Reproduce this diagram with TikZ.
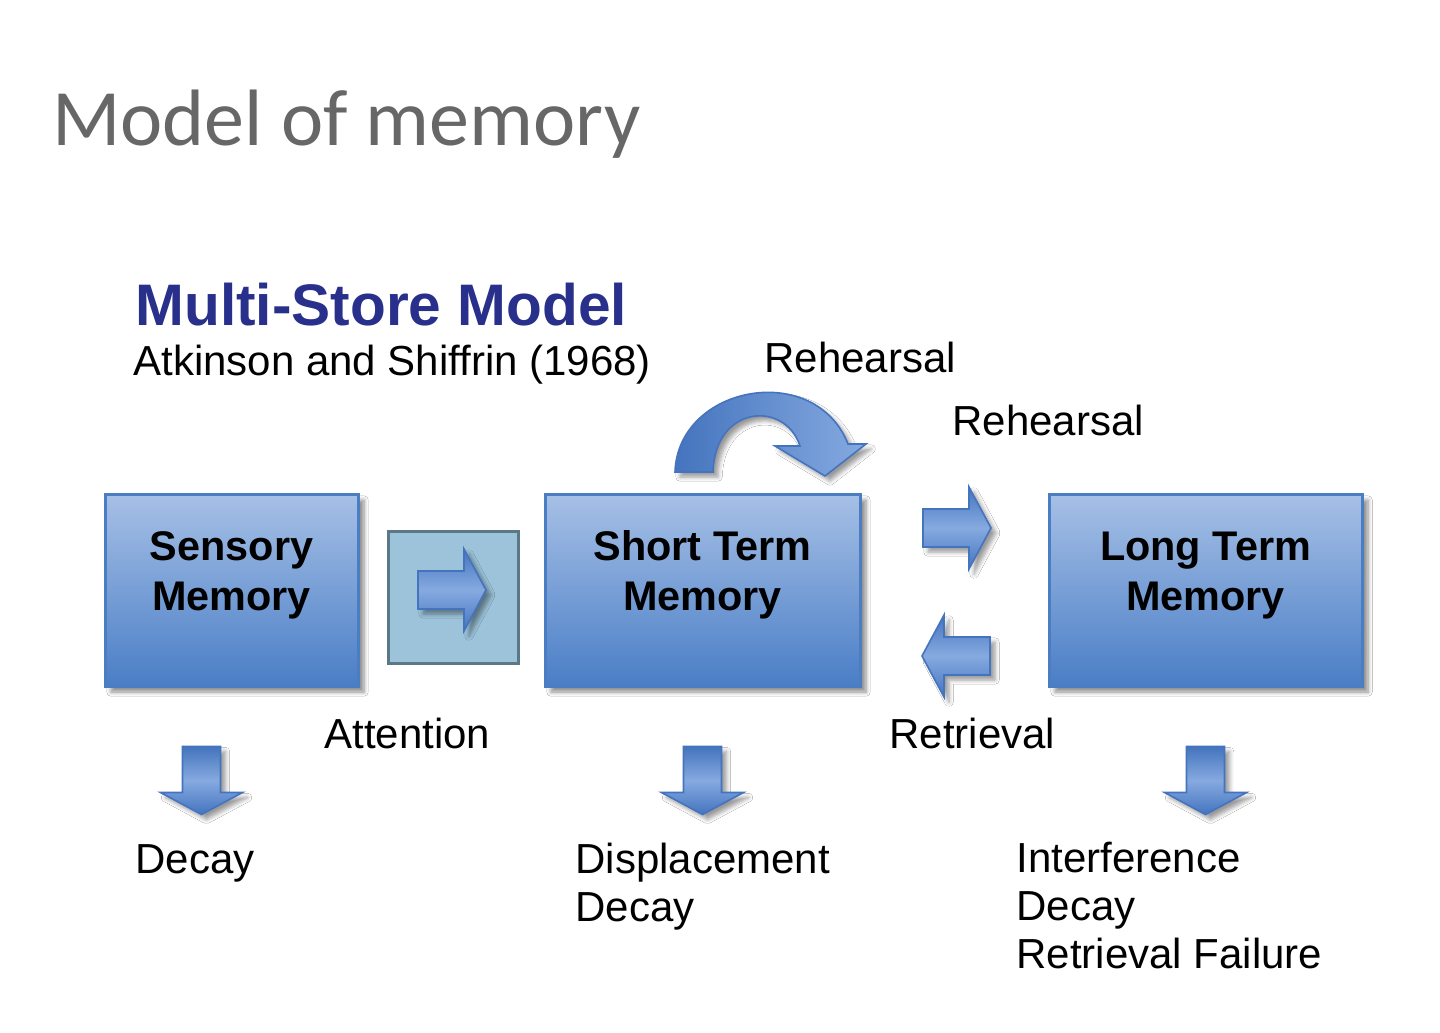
\documentclass[tikz,border=0pt]{standalone}
\usepackage{fontspec}
\setmainfont{Liberation Sans}
\newfontfamily\titlefont{Carlito}
\usetikzlibrary{calc,shadows.blur}

\definecolor{titlegray}{HTML}{676767}
\definecolor{storenavy}{HTML}{28308C}
\definecolor{boxtop}{HTML}{A6C0E6}
\definecolor{boxbottom}{HTML}{4A7EC6}
\definecolor{boxedge}{HTML}{4A7DC2}
\definecolor{attnfill}{HTML}{9CC3DA}
\definecolor{attnedge}{HTML}{5B7886}
\definecolor{arrowdark}{HTML}{4474BE}
\definecolor{arrowlight}{HTML}{86AAE0}

\begin{document}
\begin{tikzpicture}[x=0.5pt, y=-0.5pt,
    store/.style={rectangle, draw=boxedge, line width=1.5pt, top color=boxtop, bottom color=boxbottom, minimum height=96pt, blur shadow={shadow xshift=3pt, shadow yshift=-3pt, shadow opacity=45, shadow blur steps=6}},
    storetext/.style={font=\fontsize{20.7}{25}\selectfont\bfseries, align=center, anchor=base, inner sep=0pt},
    plain/.style={font=\fontsize{21}{24}\selectfont, align=left, anchor=base west, inner sep=0pt},
    arrowbody/.style={draw=arrowdark, line width=0.8pt, top color=arrowdark, bottom color=arrowdark, middle color=arrowlight, blur shadow={shadow xshift=2.5pt, shadow yshift=-2.5pt, shadow opacity=40, shadow blur steps=5}},
    curvebody/.style={draw=arrowdark, line width=0.8pt, left color=arrowdark, right color=arrowlight, blur shadow={shadow xshift=2.5pt, shadow yshift=-2.5pt, shadow opacity=40, shadow blur steps=5}},
    blockarrow/.pic={
        \path[arrowbody] (-34,-19) -- (12,-19) -- (12,-41) -- (34,0) -- (12,41) -- (12,19) -- (-34,19) -- cycle;
    }
]
\useasboundingbox[fill=white] (0,0) rectangle (1440,1033);

% headings
\node[anchor=base west, inner sep=0pt, font=\titlefont\fontsize{40}{48}\selectfont, text=titlegray] (title) at (52,145) {Model of memory};
\node[plain, font=\fontsize{29.3}{35}\selectfont\bfseries, text=storenavy] (msm) at (135,325) {Multi-Store Model};
\node[plain] (authors) at (133,375) {Atkinson and Shiffrin (1968)};

% stores
\node[store, minimum width=126.5pt] (sensory) at (231.5,590) {};
\node[store, minimum width=157.5pt] (stm) at (702.5,590) {};
\node[store, minimum width=156.5pt] (ltm) at (1205.5,590) {};
\node[draw=attnedge, line width=1.5pt, fill=attnfill, minimum width=65pt, minimum height=66pt] (attn) at (453,597) {};

\node[storetext] (sensorytext) at ($(sensory.north)+(0,118)$) {Sensory\\Memory};
\node[storetext] (stmtext) at ($(stm.north)+(0,118)$) {Short Term\\Memory};
\node[storetext] (ltmtext) at ($(ltm.north)+(0,118)$) {Long Term\\Memory};

% block arrows
\pic (attnarrow) at ($(attn.center)+(-1,-7)$) {blockarrow};
\pic (toltm) at (957,528) {blockarrow};
\pic[rotate=180] (tostm) at (956,656) {blockarrow};
\pic[rotate=-90] (sensorydown) at ($(sensory.south)+(-30,93)$) {blockarrow};
\pic[rotate=-90] (stmdown) at ($(stm.south)+(0,93)$) {blockarrow};
\pic[rotate=-90] (ltmdown) at ($(ltm.south)+(0,93)$) {blockarrow};

% rehearsal loop
\path[curvebody] (675,472) .. controls (678,385) and (815,360) .. (848,444) -- (866,444) -- (825,476) -- (775,446) -- (800,446) .. controls (785,400) and (715,405) .. (713,472) -- cycle;

% labels
\node[plain] (rehearsalloop) at (764,372) {Rehearsal};
\node[plain] (rehearsalltm) at (952,435) {Rehearsal};
\node[plain] (attention) at (324,748) {Attention};
\node[plain] (retrieval) at (889,748) {Retrieval};
\node[plain] (sensoryloss) at (135,873) {Decay};
\node[plain] (stmloss) at (575,921) {Displacement\\Decay};
\node[plain] (ltmloss) at (1016,968) {Interference\\Decay\\Retrieval Failure};
\end{tikzpicture}
\end{document}
